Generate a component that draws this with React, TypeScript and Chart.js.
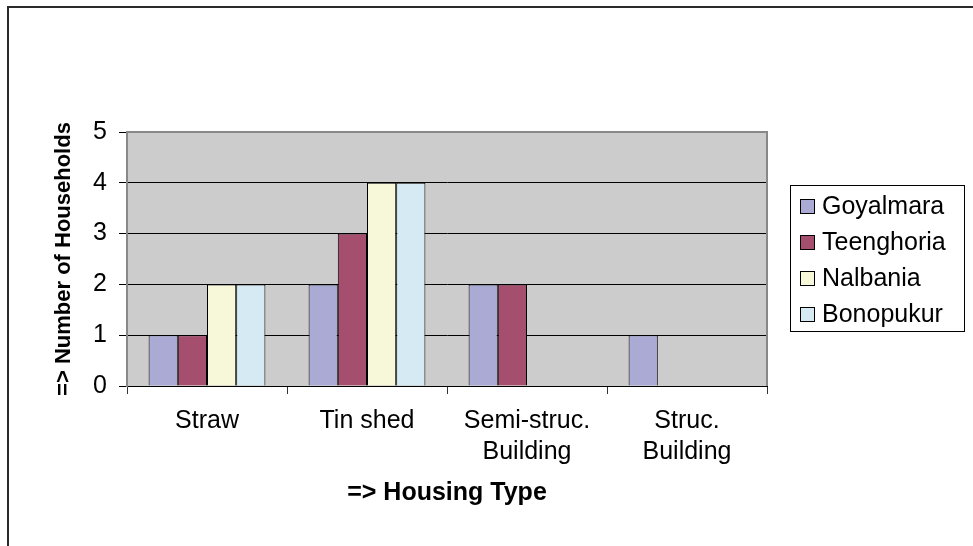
import React, { useEffect, useRef } from "react";
import { Chart, registerables } from "chart.js";

Chart.register(...registerables);

const categories: (string | string[])[] = ["Straw", "Tin shed", ["Semi-struc.", "Building"], ["Struc.", "Building"]];
const seriesNames = ["Goyalmara", "Teenghoria", "Nalbania", "Bonopukur"];
const goyalmara = [1, 2, 2, 1];
const teenghoria = [1, 3, 2, 0];
const nalbania = [2, 4, 0, 0];
const bonopukur = [2, 4, 0, 0];
const seriesColors = ["#aaaad4", "#a64e6e", "#f7f7d9", "#d6eaf4"];
const yMin = 0;
const yMax = 5;
const yStep = 1;
const xTitle = "=> Housing Type";
const yTitle = "=> Number of Households";

const FONT = '"Liberation Sans", Arial, Helvetica, sans-serif';

export default function App() {
  const ref = useRef<HTMLCanvasElement | null>(null);

  useEffect(() => {
    if (!ref.current) return;
    Chart.defaults.font.family = FONT;
    const seriesValues = [goyalmara, teenghoria, nalbania, bonopukur];

    const framePlugin = {
      id: "frame",
      beforeDraw(chart: any) {
        const { ctx, chartArea } = chart;
        ctx.save();
        ctx.fillStyle = "#ffffff";
        ctx.fillRect(0, 0, chart.width, chart.height);
        ctx.fillStyle = "#2a2a2a";
        ctx.fillRect(7, 6, chart.width - 7, 2);
        ctx.fillRect(7, 6, 2, chart.height - 6);
        ctx.fillStyle = "#cccccc";
        ctx.fillRect(chartArea.left, chartArea.top, chartArea.right - chartArea.left, chartArea.bottom - chartArea.top);
        ctx.restore();
      },
      afterDatasetsDraw(chart: any) {
        const { ctx, chartArea } = chart;
        ctx.save();
        ctx.strokeStyle = "#888888";
        ctx.lineWidth = 2;
        ctx.beginPath();
        ctx.moveTo(chartArea.left, chartArea.top);
        ctx.lineTo(chartArea.right, chartArea.top);
        ctx.lineTo(chartArea.right, chartArea.bottom);
        ctx.stroke();
        ctx.restore();
      },
      afterDraw(chart: any) {
        const { ctx } = chart;
        const boxL = 790, boxT = 185, boxW = 174, boxH = 146;
        ctx.save();
        ctx.strokeStyle = "#000";
        ctx.lineWidth = 1;
        ctx.strokeRect(boxL + 0.5, boxT + 0.5, boxW, boxH);
        ctx.font = `25px ${FONT}`;
        ctx.textBaseline = "middle";
        ctx.textAlign = "left";
        chart.data.datasets.forEach((ds: any, i: number) => {
          const cy = 206 + i * 36;
          ctx.fillStyle = ds.backgroundColor;
          ctx.fillRect(800, cy - 7, 15, 15);
          ctx.strokeStyle = "#000";
          ctx.strokeRect(800.5, cy - 6.5, 14, 14);
          ctx.fillStyle = "#000";
          ctx.fillText(ds.label, 822, cy + 1);
        });
        ctx.restore();
      },
    };

    const chart = new Chart(ref.current, {
      type: "bar",
      data: {
        labels: categories,
        datasets: seriesNames.map((name, i) => ({
          label: name,
          data: seriesValues[i],
          backgroundColor: seriesColors[i],
          borderColor: "#000",
          borderWidth: 1,
          categoryPercentage: 0.73,
          barPercentage: 1,
        })),
      },
      options: {
        animation: false,
        responsive: false,
        layout: { padding: { left: 0, top: 132, right: 206, bottom: 0 } },
        plugins: { legend: { display: false }, tooltip: { enabled: false } },
        scales: {
          x: {
            afterFit: (s: any) => {
              s.height = 160;
            },
            grid: { offset: true, drawOnChartArea: false, drawTicks: true, tickLength: 8, color: "#333" },
            border: { color: "#000", width: 1 },
            ticks: { font: { size: 25, lineHeight: 1.25 }, color: "#000", padding: 11, maxRotation: 0, autoSkip: false },
            title: { display: true, text: xTitle, font: { size: 25, weight: "bold" }, color: "#000", padding: { top: 0, bottom: 38 } },
          },
          y: {
            min: yMin,
            max: yMax,
            afterFit: (s: any) => {
              s.width = 127;
            },
            ticks: { stepSize: yStep, font: { size: 25 }, color: "#000", padding: 12 },
            grid: {
              color: (c: any) => (c.tick && c.tick.value === yMax ? "#888" : "#000"),
              tickColor: "#000",
              tickLength: 8,
            },
            border: { color: "#888", width: 2 },
            title: { display: true, text: yTitle, font: { size: 22, weight: "bold" }, color: "#000", padding: { top: 51, bottom: 0 } },
          },
        },
      } as any,
      plugins: [framePlugin],
    });
    return () => chart.destroy();
  }, []);

  return (
    <div style={{ position: "absolute", left: 0, top: 0, width: 973, height: 546 }}>
      <canvas ref={ref} width={973} height={546} style={{ display: "block" }} />
    </div>
  );
}
